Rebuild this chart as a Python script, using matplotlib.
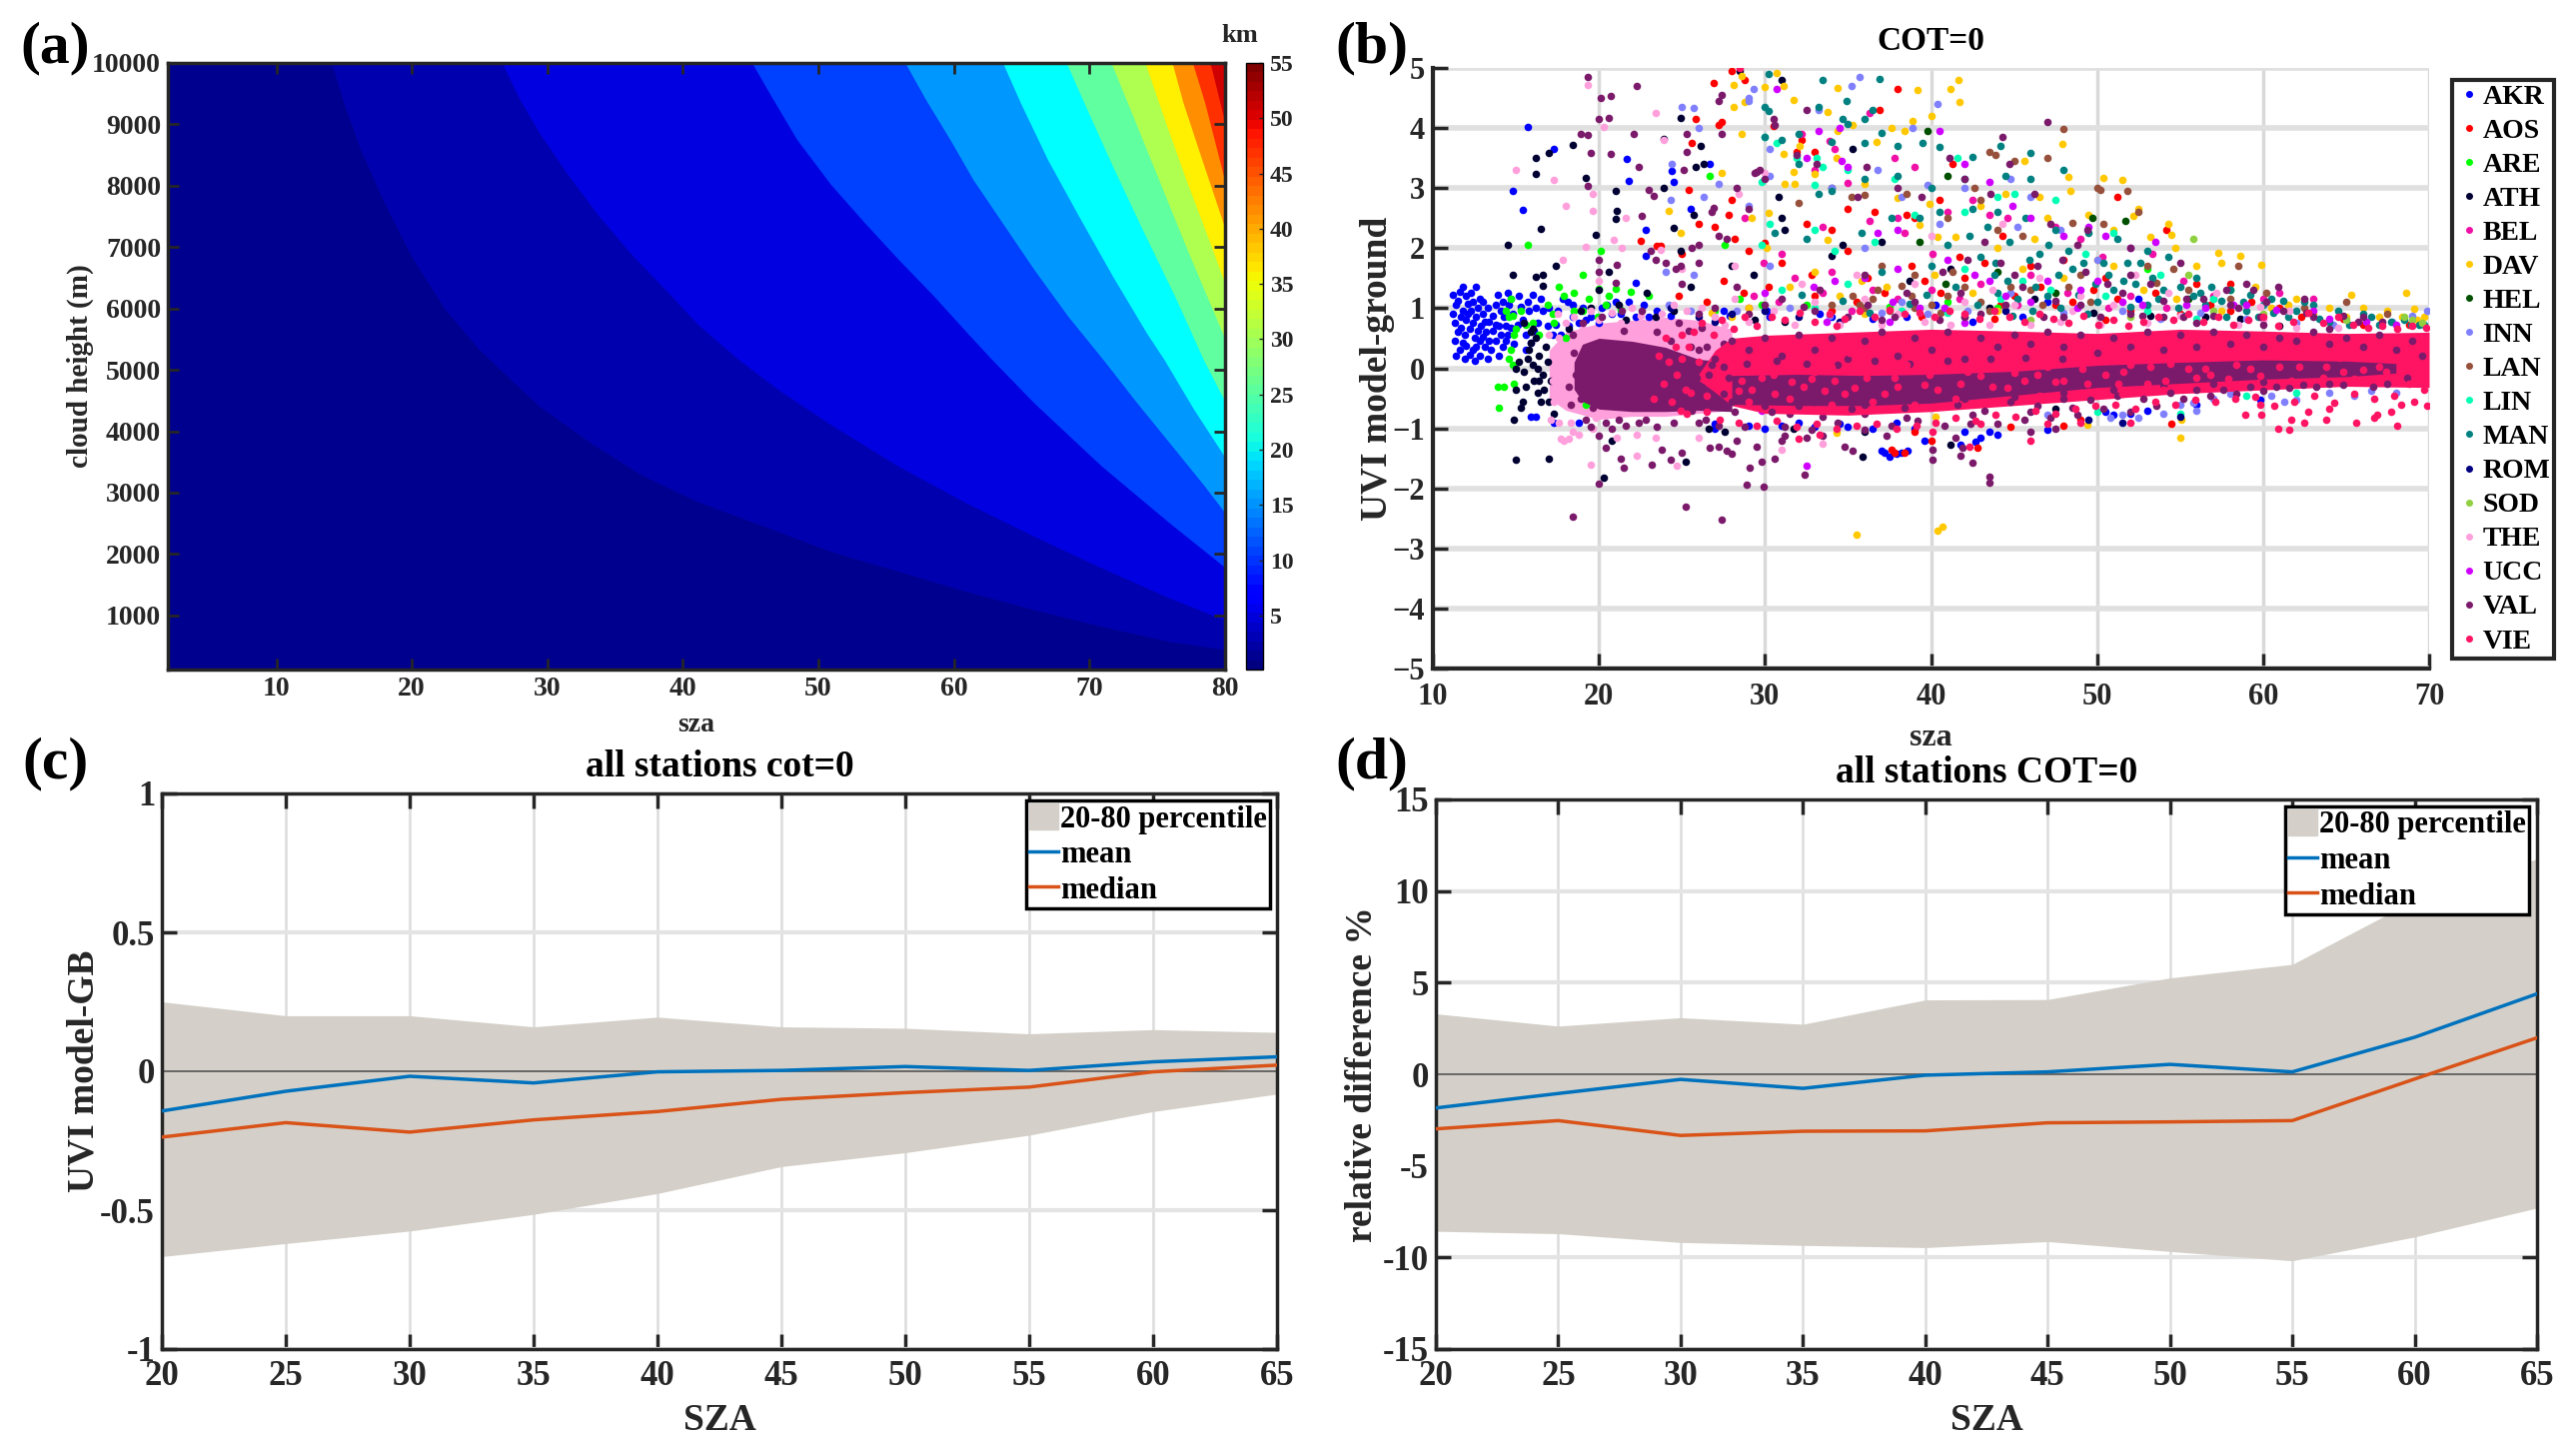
import numpy as np
import matplotlib
matplotlib.use('Agg')
import matplotlib.pyplot as plt
from matplotlib.cm import ScalarMappable
from matplotlib.colors import Normalize
from matplotlib.patches import Patch
from matplotlib.lines import Line2D

plt.rcParams['font.family'] = ['Liberation Serif', 'DejaVu Serif']
plt.rcParams['font.weight'] = 'bold'
plt.rcParams['axes.labelweight'] = 'bold'
plt.rcParams['axes.titleweight'] = 'bold'

FIG_W, FIG_H = 2578, 1454
DARK = '#262626'

# ---- panel (a): band edges, (sza, cloud height)
EDGE_1 = [(14.07, 10000), (14.97, 9353), (16.2, 8592), (17.96, 7723), (19.96, 6853), (22.46, 5984), (24.96, 5332), (27.3, 4842), (29.4, 4408), (33.2, 3810),
          (36.9, 3293), (41.0, 2860), (46, 2451), (50.9, 2043), (55.9, 1717), (60.9, 1391), (65.9, 1092), (70.9, 821), (75.9, 576), (80, 445)]
EDGE_2 = [(26.65, 10000), (27.95, 9408), (29.4, 8864), (31.4, 8212), (33.7, 7533), (36.2, 6880), (38.7, 6310), (41.05, 5750), (44.1, 5168), (47.2, 4652),
          (50.9, 4109), (55.9, 3429), (60.9, 2832), (65.9, 2288), (70.9, 1772), (75.9, 1283), (80, 920)]
EDGE_3 = [(45.1, 10000), (46.5, 9462), (48.4, 8755), (50.9, 8022), (53.4, 7397), (55.9, 6799), (58.4, 6228), (60.9, 5620), (62.7, 5190), (65.9, 4462),
          (70.9, 3429), (75.9, 2505), (80, 1780)]
EDGE_4 = [(56.4, 10000), (57.9, 9408), (59.7, 8755), (61.4, 8103), (63.4, 7451), (65.9, 6636), (68.4, 5875), (71, 5168), (73.4, 4489), (75.9, 3810),
          (78.4, 3130), (80, 2670)]
EDGE_5 = [(63.6, 10000), (64.9, 9353), (66.9, 8429), (69.2, 7505), (71.7, 6527), (74.2, 5603), (75.5, 5168), (77.7, 4353), (80, 3575)]
EDGE_6 = [(68.3, 10000), (69.7, 9299), (71.7, 8321), (73.9, 7288), (76.4, 6147), (78.4, 5168), (80, 4480)]
EDGE_7 = [(71.6, 10000), (73.2, 9136), (75.2, 8049), (77.2, 6962), (80, 5500)]
EDGE_8 = [(74.1, 10000), (75.7, 8973), (77.2, 8049), (78.7, 7179), (80, 6400)]
EDGE_9 = [(76.1, 10000), (76.9, 9353), (78.2, 8484), (80, 7300)]
EDGE_10 = [(77.6, 10000), (78.5, 9353), (80, 8060)]
EDGE_11 = [(78.9, 10000), (80, 9020)]
BAND_COLORS = ['#00008F', '#0000AF', '#0000E0', '#0040FF', '#0098FF', '#00FFFF', '#60FF9F', '#AFFF50', '#FFEF00', '#FF8F00', '#FF3000', '#CF0000']

# ---- panel (b): points, (sza, UVI difference)
AKR = [(11.2, 1.22), (11.4, 1.05), (11.6, 1.28), (11.8, 1.35), (12.0, 1.2), (12.3, 1.25), (12.6, 1.35), (12.8, 1.15), (13.0, 1.1),
       (11.2, 0.9), (11.3, 0.75), (11.5, 0.6), (11.3, 0.45), (11.6, 0.3), (11.4, 0.2), (11.9, 0.15), (12.2, 0.22), (12.5, 0.12),
       (11.8, 0.95), (12.0, 0.8), (12.3, 0.95), (12.6, 0.85), (12.9, 0.7), (11.9, 0.55), (12.2, 0.65), (12.5, 0.5), (12.8, 0.45),
       (12.0, 0.38), (12.4, 0.3), (12.8, 0.2), (13.1, 0.35), (13.3, 0.15), (13.2, 0.6), (13.4, 0.78), (13.6, 0.62), (13.8, 0.45),
       (13.5, 0.3), (14.0, 0.2), (14.2, 0.35), (14.0, 0.7), (14.3, 0.85), (14.2, 1.1), (14.5, 1.25), (13.9, 1.22), (14.6, 1.05),
       (14.8, 0.9), (14.5, 0.55), (14.9, 0.4), (15.2, 1.2), (15.4, 0.8), (15.6, 0.55), (15.1, 0.72), (15.8, 0.95), (16.0, 1.22),
       (16.3, 0.75), (16.5, 1.15), (16.9, 0.7), (17.2, 0.55), (17.5, 0.95), (17.8, 1.15), (18.1, 1.1), (18.4, 0.85), (18.2, 0.7),
       (19.0, 1.0), (19.5, 0.85), (20.0, 0.75), (20.5, 1.05), (21.0, 1.1), (21.3, 0.9), (21.8, 1.1), (22.2, 0.85), (22.7, 1.05),
       (14.8, 2.95), (15.4, 2.63), (15.7, 4.02), (17.3, 3.65), (21.65, 3.48), (21.8, 3.12), (22.2, 1.42), (24.4, 3.28), (24.5, 3.1),
       (26.7, 3.41), (25.5, 2.66), (22.8, 2.3), (22.8, 1.87), (15.9, -0.8), (16.2, -0.8), (17.3, -0.9), (18.8, -0.9), (37.2, -1.41),
       (37.5, -1.47), (37.9, -1.43), (38.6, -1.38), (37.0, -1.38), (38.2, -1.41), (39.6, -1.2), (27.0, -1.0), (29.0, -0.95), (30.0, -1.0),
       (31.0, -0.95), (33.0, -0.98), (35.0, -0.97), (36.5, -1.0), (39.0, -1.0), (42.0, -1.05), (43.0, -1.15), (44.0, -1.1), (47.0, -1.02),
       (41.8, -1.28), (42.7, -1.22), (43.5, -1.05), (51.0, -0.78), (52.0, -0.75), (53.0, -0.7), (56.0, -0.6), (59.8, -0.52), (50.5, -0.72),
       (11.5, 1.12), (11.7, 0.85), (11.7, 0.68), (11.8, 0.42), (12.1, 1.08), (12.1, 0.9), (12.4, 1.1), (12.4, 0.75), (12.7, 1.0), (12.7, 0.62),
       (12.6, 0.36), (13.0, 0.9), (13.0, 0.52), (13.1, 0.78), (13.3, 1.0), (13.4, 0.45), (13.6, 0.88), (13.8, 0.72), (13.8, 1.05), (14.1, 0.55),
       (14.1, 0.95), (14.4, 0.7), (14.4, 0.45), (14.7, 1.15), (14.7, 0.68), (15.3, 1.02), (15.7, 1.1), (15.6, 0.3), (15.9, 0.42), (16.2, 1.0),
       (16.6, 0.95), (16.1, 0.62), (17.0, 1.0), (17.4, 0.72), (17.7, 0.55), (18.4, 1.05), (18.8, 0.75), (19.2, 0.8), (20.2, 1.0), (20.8, 0.9),
       (23.0, 0.85), (23.5, 0.95), (24.3, 0.88), (27.5, 0.95), (27.9, 0.88), (30.1, 0.95), (30.3, 0.85), (33.3, 0.9), (34.0, 0.85), (36.5, 0.82),
       (38.5, 0.85), (40.3, 1.05), (47.0, 1.1), (52.5, 1.15), (45.5, 0.85), (42.5, 0.78), (27.0, -0.92), (32.0, -0.9), (34.5, -0.92), (37.9, -0.9)]
AOS = [(26.9, 4.75), (27.4, 4.1), (28.0, 4.95), (28.8, 4.8), (25.6, 3.75), (25.8, 4.15), (27.2, 4.05), (30.5, 4.04), (32.2, 3.8),
       (33.0, 3.6), (31.9, 3.6), (38.0, 4.65), (36.9, 4.3), (25.4, 2.97), (28.0, 2.8), (27.8, 2.55), (26.0, 2.4), (27.0, 2.35),
       (22.5, 2.12), (23.5, 2.03), (23.7, 2.03), (25.0, 1.9), (28.2, 2.15), (29.0, 1.95), (30.0, 2.08), (32.5, 2.4), (34.0, 2.3),
       (35.0, 2.65), (36.6, 2.6), (38.5, 2.55), (39.0, 2.5), (40.5, 2.8), (41.3, 3.4), (44.3, 2.2), (46.0, 1.7), (48.0, 1.8),
       (51.2, 2.85), (54.2, 2.3), (50.5, 1.5), (56.0, 1.4), (58.0, 1.4), (24.8, 1.2), (26.5, 1.1), (29.0, 1.0), (33.0, 1.2),
       (35.5, 1.1), (42.0, 1.5), (45.0, 1.2), (48.5, 1.1), (52.0, 0.95), (55.0, 0.9), (61.0, 1.0), (37.6, -1.35), (37.8, -1.4),
       (38.4, -1.4), (39.0, -1.05), (40.0, -1.2), (42.8, -1.32), (48.0, -0.95), (49.0, -0.85), (44.8, -0.98), (54.5, -0.93),
       (31.0, 1.75), (32.8, 1.55), (35.0, 1.95), (36.2, 1.5), (37.2, 1.25), (38.8, 1.7), (39.6, 1.45), (40.6, 1.25), (41.7, 1.85), (43.2, 1.75),
       (44.2, 1.05), (46.6, 1.35), (47.5, 1.05), (49.8, 1.3), (51.2, 1.15), (53.5, 1.25), (56.8, 1.05), (59.3, 1.1), (62.3, 0.85), (64.8, 0.82),
       (27.5, 1.45), (28.7, 1.25), (30.2, 1.35), (34.0, 0.95), (39.4, 0.85), (43.8, 0.82), (58.0, 0.95), (66.0, 0.72), (68.8, 0.72), (50.5, 0.8)]
ARE = [(14.7, 1.15), (14.8, 0.88), (15.0, 0.65), (14.6, 0.85), (14.9, 0.55), (14.6, 0.15), (14.8, 0.05), (14.9, -0.25), (14.3, -0.3), (13.9, -0.3),
       (14.0, -0.65), (15.7, 2.05), (17.6, 1.35), (17.9, 1.2), (18.5, 1.25), (19.0, 1.55), (20.0, 1.32), (21.0, 1.33), (21.9, 1.28), (23.0, 1.2),
       (20.1, 1.95), (26.7, 3.2), (27.6, 2.05), (19.0, 0.95), (19.9, 0.85), (20.4, 1.05), (16.0, 0.75), (16.4, 0.55), (17.2, 0.9), (18.0, 0.5),
       (19.2, -0.6), (28.5, 1.15), (44.0, 1.0), (53.0, 1.65), (58.0, 1.3), (14.4, 0.95), (14.7, 0.3), (15.3, 0.95), (15.6, 0.72), (16.9, 1.05),
       (17.3, 0.75), (18.5, 0.95), (19.4, 1.15), (20.6, 1.2), (21.3, 0.98), (27.0, 0.95), (29.8, 1.05), (32.5, 1.05), (37.5, 1.02), (41.0, 1.1)]
ATH = [(14.5, 2.05), (14.8, 1.55), (16.2, 1.52), (16.6, 1.55), (16.6, 1.38), (17.4, 1.7), (16.2, 3.23), (16.2, 3.5), (17.0, 3.58),
       (18.4, 3.72), (19.2, 3.17), (21.0, 2.95), (21.1, 2.62), (21.0, 2.48), (16.5, 2.32), (19.8, 2.22), (20.0, 1.3), (20.6, 1.6),
       (23.9, 3.0), (24.5, 2.33), (24.9, 1.95), (22.9, 1.25), (25.7, 2.55), (28.5, 4.95), (24.9, 4.16), (23.9, 3.82), (31.0, 4.8),
       (26.1, 3.7), (26.3, 3.4), (25.8, 3.35), (35.3, 3.65), (30.8, 2.85), (31.0, 2.5), (31.2, 2.3), (34.0, 3.0), (34.7, 2.05),
       (37.0, 2.1), (34.0, 1.88), (25.5, 1.35), (28.0, 1.7), (29.3, 1.55), (15.5, 0.75), (15.9, 0.6), (16.2, 0.5), (15.8, 0.3),
       (16.4, 0.2), (16.0, 0.05), (16.6, -0.1), (16.9, 0.1), (15.5, -0.05), (15.2, 0.1), (15.0, 0.0), (16.1, -0.2), (16.7, -0.35),
       (15.0, -0.35), (15.4, -0.55), (16.3, -0.4), (17.0, -0.55), (17.3, -0.75), (14.9, -0.85), (15.3, -0.65), (15.0, -1.53), (17.0, -1.5),
       (20.3, -1.82), (25.2, -1.55), (35.9, -1.48), (20.8, -1.2), (26.6, -1.0), (27.6, -1.05), (31.7, -1.0), (36.0, -1.05), (41.2, -1.27),
       (18.2, 0.65), (18.9, 0.95), (19.5, 1.0), (21.2, 1.05), (21.6, 0.8), (24.5, 0.95), (47.5, -0.68), (63.2, 0.4), (61.0, 0.7),
       (15.9, 0.42), (16.3, 0.0), (16.4, -0.2), (16.0, 0.65), (15.7, 0.15), (16.8, 0.35), (16.5, -0.55), (17.1, -0.2), (15.6, -0.3), (23.4, 0.85),
       (29.4, 0.8), (31.2, 0.78), (38.7, 1.45), (41.2, 1.65), (43.5, 1.0), (46.2, 1.15), (49.8, 0.92), (53.2, 0.88), (56.5, 0.85), (58.6, 0.82)]
BEL = [(32.2, 3.9), (33.9, 3.78), (35.0, 3.08), (33.0, 3.3), (36.3, 4.25), (34.2, 3.65), (37.8, 3.5), (39.0, 3.35), (38.0, 2.5),
       (31.8, 1.5), (33.5, 2.35), (36.3, 2.45), (38.4, 2.25), (40.1, 1.9), (42.5, 2.8), (41.0, 2.6), (43.5, 2.55), (44.6, 2.5),
       (47.5, 2.35), (49.0, 2.15), (53.3, 1.9), (50.3, 1.85), (46.0, 1.55), (52.0, 1.2), (55.2, 1.45), (57.0, 1.2), (60.0, 1.15),
       (61.0, 1.25), (63.0, 1.15), (28.8, 2.5), (29.9, 1.75), (31.0, 1.9), (34.0, 1.6), (36.5, 1.3), (40.0, 1.3), (43.0, 1.4),
       (29.3, 1.2), (30.8, 1.1), (33.5, 1.25), (35.2, 0.95), (38.0, 1.15), (41.7, 1.15), (45.2, 1.05), (48.2, 1.25), (50.7, 1.0), (54.2, 1.0)]
DAV = [(41.66, 4.8), (41.2, 4.65), (41.7, 4.43), (47.9, 3.73), (45.6, 3.46), (48.3, 3.18), (50.4, 3.17), (51.5, 3.13), (48.4, 2.95),
       (52.5, 2.65), (52.2, 2.54), (54.3, 2.4), (54.5, 2.22), (53.2, 2.19), (57.3, 1.92), (58.6, 1.88), (57.5, 1.75), (59.9, 1.72),
       (68.6, 1.26), (69.1, 0.99), (65.3, 1.22), (54.7, 2.0), (28.6, 4.87), (30.7, 4.92), (28.1, 4.71), (29.95, 4.68), (31.1, 4.7),
       (28.1, 4.35), (28.8, 4.43), (31.7, 4.46), (34.4, 4.67), (39.2, 4.63), (28.6, 3.9), (34.4, 3.95), (35.3, 4.05), (37.6, 4.0),
       (38.9, 4.12), (40.0, 4.2), (38.4, 3.95), (33.8, 4.27), (27.4, 3.26), (31.1, 3.57), (32.1, 3.71), (31.7, 3.27), (31.2, 3.07),
       (31.8, 3.07), (33.0, 3.23), (34.3, 3.5), (36.0, 3.07), (36.7, 3.77), (38.0, 2.84), (24.2, 2.62), (24.9, 2.26), (29.2, 2.51),
       (30.2, 2.59), (33.8, 2.13), (30.1, 2.01), (39.3, 2.38), (39.9, 2.73), (40.4, 2.19), (41.5, 2.19), (35.5, -2.77), (40.4, -2.7),
       (40.7, -2.63), (34.3, -1.08), (40.3, -0.8), (55.0, -1.15), (49.4, -0.94), (55.1, -0.86), (43.0, 2.7), (44.5, 2.9), (46.5, 2.85),
       (47.0, 2.5), (49.5, 2.55), (51.0, 2.3), (44.0, 2.0), (46.2, 2.15), (50.0, 1.8), (56.0, 1.7), (62.0, 1.15), (64.0, 1.0),
       (66.0, 1.0), (67.5, 0.95), (68.4, 0.85), (69.3, 0.8), (69.7, 0.85), (60.5, 1.0), (63.0, 0.9), (33.0, 1.6), (35.8, 1.45),
       (29.0, 1.0), (31.5, 1.35), (34.5, 1.2), (37.3, 1.35), (40.2, 1.55), (42.5, 1.25), (45.5, 1.65), (48.0, 1.5), (51.0, 1.7), (52.8, 1.3),
       (54.8, 1.15), (57.5, 0.95), (59.5, 1.35), (61.5, 1.05), (65.0, 0.85), (67.0, 0.85), (26.8, 0.92), (28.0, 0.85), (36.0, 0.9), (44.0, 0.95)]
HEL = [(39.8, 3.95), (41.0, 3.2), (39.3, 2.1), (49.7, 2.5), (51.7, 2.45), (44.0, 1.6), (40.9, 1.4), (47.5, 1.25), (55.5, 1.15)]
INN = [(29.3, 4.65), (29.0, 4.5), (29.0, 4.45), (25.0, 4.35), (25.7, 4.33), (26.0, 4.0), (30.3, 3.65), (33.2, 4.3), (35.7, 4.85), (35.2, 4.7),
       (40.4, 4.4), (38.9, 4.0), (24.4, 3.4), (24.3, 2.8), (26.3, 2.85), (27.2, 3.07), (29.0, 2.7), (30.3, 3.2), (34.0, 3.0), (36.8, 3.3),
       (38.2, 2.85), (39.8, 3.05), (42.0, 3.0), (44.8, 3.15), (46.0, 2.85), (50.0, 1.8), (45.2, 2.35), (47.8, 2.3), (40.5, 2.4), (36.0, 2.0),
       (24.0, 1.6), (25.7, 1.55), (30.3, 1.7), (69.9, 0.95), (55.0, -0.6), (56.0, -0.7), (54.0, -0.75), (50.8, -0.82), (51.5, -0.78), (52.5, -0.82),
       (62.0, -0.52), (64.0, -0.4), (66.5, -0.38), (68.0, -0.4), (60.5, -0.45), (58.0, -0.42), (57.0, -0.5), (65.5, -0.45), (61.3, -0.55), (47.0, -0.78),
       (24.2, 1.05), (25.5, 0.95), (28.3, 0.95), (31.5, 1.0), (33.9, 0.88), (37.0, 0.92), (38.2, 1.1), (39.8, 0.9), (42.2, 0.95), (44.8, 1.25),
       (48.0, 0.92), (51.5, 0.95), (53.8, 0.82), (56.2, 0.92), (59.0, 0.82), (62.0, 0.75), (64.2, 0.72), (67.8, 0.78), (69.0, 0.88), (55.8, -0.58)]
LAN = [(48.0, 3.98), (43.5, 3.6), (43.9, 3.55), (45.0, 3.45), (47.0, 3.5), (42.6, 3.0), (43.0, 2.8), (50.0, 3.0), (50.2, 2.97), (51.8, 2.95),
       (52.5, 2.6), (50.4, 2.4), (48.5, 2.42), (45.5, 2.2), (44.0, 2.3), (41.0, 2.5), (38.5, 2.9), (36.0, 2.88), (35.2, 2.85), (32.0, 2.75),
       (41.3, 1.6), (37.0, 1.7), (39.0, 1.55), (46.0, 1.3), (49.0, 1.55), (53.0, 1.7), (54.6, 1.65), (58.5, 1.7), (57.0, 1.15), (36.5, 1.15),
       (34.0, 1.05), (36.0, 1.0), (37.5, 0.95), (39.0, 1.0), (41.0, 1.2), (43.0, 1.1), (65.0, 1.1), (67.5, 0.9),
       (35.3, 1.2), (35.7, 1.05), (36.8, 1.3), (38.2, 1.38), (38.8, 1.2), (40.0, 1.05), (40.6, 0.92), (42.0, 1.35), (43.5, 0.95), (44.8, 1.35),
       (46.7, 1.05), (48.3, 1.35), (49.6, 1.1), (53.6, 1.42), (55.5, 1.3), (58.0, 1.15), (60.2, 1.25), (62.5, 1.0)]
LIN = [(30.0, 3.85), (30.7, 3.75), (33.1, 3.5), (33.5, 3.35), (29.8, 3.1), (31.9, 3.5), (33.0, 3.05), (35.0, 3.3), (37.8, 3.15), (39.0, 2.55),
       (41.6, 3.5), (42.0, 2.6), (44.0, 2.85), (45.0, 2.9), (47.5, 2.8), (51.0, 2.25), (30.3, 2.4), (33.0, 2.3), (36.6, 2.1), (34.2, 1.95),
       (29.8, 2.05), (49.3, 1.9), (53.8, 1.55), (42.0, 1.65), (45.5, 1.45), (57.0, 1.15), (55.0, -0.75), (50.0, -0.72), (59.0, -0.45), (62.0, -0.4),
       (31.0, 1.3), (33.0, 1.0), (35.0, 1.4), (38.2, 0.95), (41.0, 0.92), (44.2, 1.15), (47.2, 1.3), (50.5, 1.2), (53.0, 0.95), (56.0, 0.82)]
MAN = [(30.2, 4.9), (33.5, 4.8), (36.9, 4.82), (36.5, 4.3), (34.9, 4.45), (30.0, 4.35), (30.2, 4.28), (33.2, 4.35), (34.7, 4.15), (35.0, 4.07),
       (36.0, 4.15), (37.0, 3.92), (30.0, 3.85), (31.0, 3.8), (32.0, 3.9), (34.0, 3.77), (36.0, 3.75), (38.0, 3.7), (39.5, 3.75), (40.5, 3.68),
       (42.5, 3.52), (44.2, 3.7), (46.0, 3.58), (48.0, 3.3), (46.0, 3.15), (44.5, 3.2), (42.0, 3.15), (40.0, 3.0), (38.0, 3.2), (36.0, 3.15),
       (34.0, 2.95), (32.0, 3.4), (33.2, 2.9), (30.6, 2.25), (32.5, 2.15), (35.8, 2.25), (37.6, 2.5), (39.3, 2.5), (40.5, 2.6), (42.5, 2.65),
       (44.0, 2.6), (45.7, 2.5), (47.5, 2.3), (49.5, 2.25), (51.2, 2.15), (53.0, 1.95), (54.3, 1.85), (56.0, 1.5), (58.0, 1.3), (60.5, 1.15),
       (62.5, 1.1), (64.5, 0.95), (66.5, 0.85), (68.5, 0.8), (46.5, 1.9), (48.5, 1.65), (50.7, 1.55), (52.3, 1.4), (54.0, 1.3), (56.5, 1.05),
       (43.0, 1.85), (40.0, 1.7), (37.0, 1.6), (44.0, 1.25), (47.0, 1.2), (50.0, 1.1), (53.0, 1.05), (55.8, 1.2), (59.0, 0.95), (61.5, 0.85),
       (41.5, 1.35), (42.8, 1.05), (43.8, 1.55), (45.2, 1.15), (46.1, 0.95), (47.8, 1.0), (48.9, 1.22), (49.4, 0.9), (51.0, 1.3), (52.0, 1.02),
       (53.3, 1.5), (54.9, 1.0), (55.2, 0.88), (56.9, 1.35), (57.8, 0.85), (59.7, 0.85), (60.6, 0.92), (63.4, 0.82), (65.2, 0.72), (67.7, 0.78),
       (68.9, 0.72), (38.7, 1.08), (39.7, 1.22), (36.3, 0.92), (34.7, 1.12), (32.2, 1.22), (42.0, 0.85), (44.9, 0.88), (50.4, 1.75), (58.8, 1.1),
       (41.0, 2.05), (42.3, 2.2), (43.4, 2.35), (44.7, 2.1), (45.9, 1.8), (47.1, 2.05), (48.3, 1.95), (49.2, 1.75), (51.8, 1.75), (52.6, 1.75),
       (43.9, 1.75), (44.6, 1.45), (46.3, 1.35), (47.7, 1.55), (49.9, 1.4), (51.6, 1.45), (53.7, 1.15), (55.0, 1.35), (56.2, 1.25), (57.5, 1.12),
       (59.2, 1.22), (60.0, 1.05), (61.2, 1.12), (62.0, 0.95), (63.0, 1.05), (64.0, 0.78), (66.0, 0.9), (67.0, 0.72), (69.4, 0.72), (69.7, 0.72)]
ROM = [(24.3, 1.0), (26.0, 0.85), (28.0, 0.9), (30.0, 0.95), (32.0, 0.85), (34.5, 0.78), (27.0, 0.78), (44.5, 0.95), (49.5, -0.85), (51.5, -0.9), (55.0, -0.8)]
SOD = [(68.5, 0.85), (69.0, 0.8), (69.6, 0.75), (65.0, 0.8), (60.0, 0.9), (55.5, 1.55), (57.0, 0.95), (46.0, 0.8), (55.8, 2.15), (52.0, 0.85)]
THE = [(19.3, 4.72), (15.0, 3.3), (17.3, 3.13), (19.6, 2.9), (18.0, 2.7), (19.6, 2.62), (21.6, 2.5), (20.9, 2.13), (19.2, 2.02), (17.8, 1.8),
       (21.4, 2.0), (25.0, 1.65), (23.7, 1.97), (28.2, 1.7), (20.0, 1.45), (23.4, 4.25), (20.3, 4.02), (23.9, 3.8), (30.0, 3.25), (28.4, 2.9),
       (17.5, 0.9), (17.6, 0.5), (17.3, 0.2), (17.2, -0.2), (17.3, -0.55), (17.6, -0.9), (17.7, -1.18), (17.9, -1.2), (18.2, -1.18), (18.4, -1.05),
       (18.8, -1.1), (19.6, -1.0), (21.1, -1.15), (22.3, -1.1), (23.4, -1.15), (19.5, -1.6), (22.3, -1.45), (24.7, -1.63), (26.0, -1.15), (31.0, -1.35),
       (33.5, -1.25), (19.0, 0.65), (20.0, 0.8), (21.3, 0.75), (22.5, 0.88), (23.8, 0.9), (25.3, 0.95), (27.0, 0.85), (35.5, 1.55), (39.0, 1.4),
       (42.0, 1.1), (45.0, 1.05), (48.5, 0.95), (51.0, 1.05), (33.0, 1.1), (30.5, 0.95), (38.0, 0.9), (55.0, 0.88), (60.0, 0.8),
       (18.0, 0.75), (18.5, 0.85), (19.5, 0.95), (20.8, 0.92), (22.0, 1.0), (24.5, 1.05), (26.2, 1.0), (27.6, 0.72), (29.0, 0.78), (31.8, 0.72),
       (34.5, 0.72), (37.0, 0.72), (39.6, 0.78), (41.2, 0.72), (43.5, 0.72), (46.0, 0.72), (47.8, 0.78), (50.2, 0.72), (53.0, 0.75), (56.0, 0.75),
       (58.5, 0.72), (62.0, 0.68), (64.5, 0.68), (17.0, 0.55), (17.1, -0.85), (18.3, -0.9), (19.8, -0.82), (28.2, 1.15), (32.2, 1.4), (36.0, 1.15),
       (43.7, 1.3), (46.5, 1.5), (49.0, 1.2), (52.3, 1.55), (54.3, 1.25), (57.2, 1.25), (59.8, 1.02), (61.6, 0.95), (40.0, 2.2), (44.3, 2.4)]
UCC = [(30.7, 4.65), (33.2, 3.95), (34.5, 4.0), (35.0, 3.35), (34.6, 3.45), (32.5, 3.5), (36.8, 2.25), (38.0, 2.3), (40.5, 3.95), (42.0, 3.4),
       (43.5, 3.1), (44.9, 2.7), (46.0, 2.5), (48.0, 2.2), (49.5, 2.35), (50.5, 2.2), (52.0, 2.0), (53.5, 2.1), (32.5, -1.63), (29.8, -0.7),
       (36.0, 1.5), (38.0, 1.65), (41.0, 1.8), (43.5, 1.45), (44.5, 1.2), (47.0, 1.45), (49.0, 1.3), (51.5, 1.1), (56.5, 1.0), (59.0, 1.05), (63.0, 0.95),
       (30.0, 1.25), (32.9, 1.35), (34.2, 1.45), (37.7, 1.1), (39.3, 1.0), (40.8, 1.0), (42.6, 1.55), (46.0, 1.1), (48.8, 1.0), (50.0, 1.45),
       (52.7, 1.05), (55.4, 1.05), (58.2, 1.05), (60.8, 0.98), (64.0, 0.82), (66.2, 0.78), (68.0, 0.72), (33.7, 0.78), (37.5, 0.78), (42.0, 0.75)]
VAL = [(19.3, 4.85), (20.1, 4.5), (20.7, 4.53), (20.0, 4.15), (20.6, 4.17), (22.3, 4.7), (18.9, 3.9), (19.3, 3.88), (19.5, 3.58), (20.7, 3.57),
       (22.1, 3.9), (22.4, 3.35), (19.3, 3.03), (23.0, 2.97), (23.3, 2.87), (22.6, 2.53), (25.3, 3.9), (25.3, 3.6), (27.2, 4.45), (27.4, 4.55),
       (27.4, 3.9), (25.1, 3.3), (26.9, 2.67), (27.2, 2.2), (25.6, 2.0), (26.0, 2.05), (26.8, 2.6), (27.7, 2.15), (29.0, 2.65), (28.3, 3.0),
       (29.4, 3.25), (29.5, 3.27), (26.0, 1.75), (24.9, 1.7), (24.6, 1.65), (25.0, 1.4), (20.0, 1.8), (20.0, 1.6), (21.1, 1.73), (21.0, 1.42),
       (23.4, 1.8), (23.1, 1.95), (24.0, 1.75), (29.7, 3.3), (30.0, 3.15), (30.5, 4.15), (30.6, 4.05), (31.9, 3.55), (32.5, 4.3), (33.1, 3.4),
       (35.6, 2.85), (36.1, 3.35), (38.0, 3.0), (39.4, 2.85), (41.1, 3.5), (42.0, 3.15), (44.3, 3.85), (47.0, 4.1), (44.7, 3.4), (43.6, 2.9),
       (46.2, 2.9), (47.2, 2.4), (48.8, 2.05), (49.4, 2.3), (52.0, 2.0), (55.0, 1.75), (59.0, 1.4), (60.9, 1.35), (59.4, 1.3), (57.8, 1.3),
       (18.4, -2.47), (25.2, -2.3), (27.4, -2.52), (20.0, -1.92), (28.9, -1.94), (29.9, -1.97), (32.4, -1.77), (29.1, -1.65), (29.8, -1.56), (21.3, -1.5),
       (21.5, -1.65), (23.2, -1.6), (24.3, -1.52), (25.0, -1.4), (23.8, -1.35), (26.7, -1.33), (27.2, -1.3), (27.7, -1.38), (28.0, -1.42), (29.5, -1.3),
       (30.6, -1.5), (31.0, -1.2), (31.2, -1.12), (32.5, -1.15), (33.5, -1.12), (34.8, -1.3), (35.3, -1.38), (37.3, -1.12), (40.1, -1.35), (40.1, -1.52),
       (20.4, -1.32), (20.0, -1.12), (19.5, -0.98), (20.8, -1.0), (21.6, -0.95), (22.4, -0.9), (23.5, -0.98), (24.5, -0.9), (26.0, -0.9), (28.3, -1.2),
       (41.8, -1.45), (42.5, -1.58), (41.5, -1.15), (41.9, -1.32), (43.5, -1.8), (43.5, -1.9), (46.0, -1.05), (47.5, -1.0), (36.0, 1.55), (38.5, 1.25),
       (21.4, 0.95), (20.2, 0.85), (19.0, 0.75), (22.6, 0.95), (26.0, 0.9), (29.0, 0.9), (33.0, 0.95), (37.0, 0.8), (42.0, 0.85), (48.0, 0.85), (52.0, 0.9),
       (19.0, 0.1), (19.5, -0.3), (18.6, -0.1), (18.9, -0.5), (19.6, -0.65), (18.5, 0.25), (21.5, 0.62), (23.5, 0.6), (24.3, 0.45), (25.5, 0.35),
       (26.5, 0.35), (27.5, 0.4), (28.5, 0.2), (31.5, -0.75), (33.5, -0.8), (36.0, -0.75), (38.5, -0.82), (42.5, -0.78), (46.0, -0.72), (48.5, -0.65),
       (64.0, 0.65), (60.0, 0.72), (56.0, 0.75), (54.0, 0.85), (62.5, 1.15), (66.0, 0.85), (27.0, 1.0), (28.3, 1.35), (30.0, 1.05), (31.0, 1.15),
       (32.3, 1.02), (33.3, 1.3), (35.0, 0.85), (36.2, 1.05), (37.8, 0.85), (39.0, 1.1), (40.5, 0.8), (41.8, 1.25), (43.0, 0.9), (44.5, 1.05),
       (45.5, 1.35), (46.8, 0.85), (47.5, 1.12), (49.0, 1.05), (50.2, 0.85), (51.5, 1.25), (52.7, 0.88), (54.0, 1.12), (55.2, 0.85), (57.0, 0.88), (58.5, 1.0),
       (59.8, 0.85), (61.2, 0.95), (63.0, 0.85), (64.8, 0.88), (18.4, 0.55), (18.2, -0.3), (18.3, -0.6), (19.2, -0.85), (20.4, -0.9), (21.2, -0.85), (22.8, -0.85),
       (40.7, 1.6), (42.2, 1.8), (43.2, 2.1), (44.2, 1.75), (45.0, 1.55), (46.4, 1.7), (47.9, 1.8), (49.3, 1.6), (50.6, 1.4), (52.0, 1.55), (53.2, 1.4),
       (55.4, 1.15), (56.4, 1.15), (58.0, 1.05), (60.2, 1.1), (62.6, 0.92), (65.7, 0.78), (67.2, 0.78), (24.8, 0.75), (25.4, 0.62), (26.2, 0.68)]
VAL_MOTTLE = [(25.6, -0.7), (26.4, -0.85), (27.2, -0.95), (28.0, -0.55), (28.8, -0.98), (29.6, -0.4), (30.4, -0.72), (31.2, -0.98), (32.0, -0.62), (32.8, -1.02),
              (33.6, -0.42), (34.4, -0.9), (35.2, -0.68), (36.0, -1.02), (36.8, -0.38), (37.6, -0.95), (38.4, -0.65), (39.2, -0.88), (40.0, -0.42), (40.8, -0.95),
              (41.6, -0.6), (42.4, -0.92), (43.2, -0.7), (44.0, -0.92), (44.8, -0.55), (45.6, -0.85), (46.4, -0.62), (47.2, -0.82), (48.0, -0.5), (48.8, -0.78),
              (49.6, -0.52), (50.4, -0.68), (51.2, -0.45), (52.0, -0.72), (52.8, -0.5), (53.6, -0.62), (54.4, -0.4), (55.2, -0.5), (56.0, -0.35), (56.8, -0.45),
              (57.6, -0.35), (58.4, -0.42), (59.2, -0.3), (60.0, -0.38), (60.8, -0.3), (61.6, -0.32), (62.4, -0.28), (63.2, -0.3), (64.0, -0.25), (64.8, -0.28),
              (26.0, 0.3), (27.0, 0.15), (28.0, 0.45), (29.0, 0.3), (30.0, 0.5), (31.0, 0.2), (32.0, 0.55), (33.0, 0.3), (34.0, 0.5), (35.0, 0.15),
              (36.0, 0.45), (37.0, 0.6), (38.0, 0.2), (39.0, 0.5), (40.0, 0.3), (41.0, 0.6), (42.0, 0.15), (43.0, 0.5), (44.0, 0.35), (45.0, 0.55),
              (46.0, 0.4), (47.0, 0.6), (48.0, 0.35), (49.0, 0.55), (50.0, 0.25), (51.0, 0.5), (52.0, 0.35), (53.0, 0.6), (54.0, 0.3), (55.0, 0.55),
              (56.0, 0.35), (57.0, 0.6), (58.0, 0.4), (59.0, 0.55), (60.0, 0.35), (61.0, 0.5), (62.0, 0.45), (63.0, 0.6), (64.0, 0.4), (65.0, 0.5),
              (66.0, 0.35), (67.0, 0.55), (68.0, 0.3), (69.0, 0.45), (69.6, 0.2), (68.7, -0.15), (67.5, -0.25), (66.6, -0.3), (27.5, -0.42), (30.0, -0.62),
              (33.0, -0.55), (36.0, -0.6), (39.0, -0.48), (42.0, -0.5), (45.0, -0.48), (48.0, -0.4), (51.0, -0.35), (54.0, -0.28), (57.0, -0.25), (60.0, -0.22),
              (28.9, 0.08), (30.7, 0.12), (32.5, 0.08), (34.4, 0.05), (36.6, 0.12), (38.7, 0.08), (41.0, 0.12), (43.6, 0.15), (45.7, 0.18), (47.9, 0.15),
              (26.6, -0.1), (27.2, -0.6), (26.8, 0.05), (26.2, -0.3), (26.0, -0.55), (27.8, -0.15), (27.5, 0.02), (28.2, -0.72), (25.7, 0.05), (25.9, -0.15)]
VIE = [(28.5, 5.0), (34.3, 0.7), (25.0, 0.55), (25.4, 0.35), (25.7, 0.6), (26.2, 0.75), (26.9, 0.55), (27.4, 0.8), (28.1, 0.65), (28.8, 0.85),
       (29.5, 0.7), (30.4, 0.85), (31.2, 0.8), (32.1, 0.92), (33.0, 0.78), (33.9, 0.9), (34.8, 0.82), (35.7, 0.95), (36.6, 0.85), (37.5, 0.98),
       (38.4, 0.9), (39.3, 0.92), (40.2, 0.85), (41.1, 0.95), (42.0, 0.9), (42.9, 0.82), (43.8, 0.95), (44.7, 0.85), (45.6, 0.78), (46.5, 0.9),
       (47.4, 0.82), (48.3, 0.75), (49.2, 0.88), (50.1, 0.72), (51.0, 0.8), (51.9, 0.7), (52.8, 0.78), (53.7, 0.85), (54.6, 0.8), (55.5, 0.9),
       (56.4, 0.78), (57.3, 0.85), (58.2, 0.72), (59.1, 0.8), (60.0, 0.85), (60.9, 0.7), (61.8, 0.78), (62.7, 0.92), (63.6, 0.75), (64.5, 0.85),
       (65.4, 0.72), (66.3, 0.68), (67.2, 0.7), (68.1, 0.66), (69.0, 0.7), (69.8, 0.68), (26.5, -0.72), (27.3, -0.85), (28.4, -0.9), (29.5, -0.95),
       (30.7, -0.88), (31.9, -0.98), (33.1, -0.92), (34.3, -1.0), (35.5, -0.95), (36.7, -0.92), (37.9, -1.0), (39.1, -0.95), (40.3, -0.9), (41.5, -0.82),
       (42.7, -0.88), (43.9, -0.78), (45.1, -0.8), (46.3, -0.7), (47.5, -0.75), (48.7, -0.68), (49.9, -0.62), (51.1, -0.6), (52.3, -0.68), (53.5, -0.55),
       (54.7, -0.6), (55.9, -0.52), (57.1, -0.55), (58.3, -0.5), (59.5, -0.48), (60.7, -0.62), (61.9, -0.55), (63.1, -0.45), (64.3, -0.58), (65.5, -0.42),
       (66.7, -0.5), (67.9, -0.45), (69.1, -0.55), (69.9, -0.62), (69.7, -0.35), (68.3, -0.6), (66.9, -0.78), (64.0, -0.68), (62.5, -0.9), (61.7, -0.85),
       (61.6, -1.02), (58.9, -0.78), (59.9, -0.78), (59.8, -0.6), (60.9, -1.0), (65.6, -0.9), (66.7, -0.82), (68.1, -0.95), (67.7, -0.72), (62.7, -0.72),
       (63.8, -0.85), (42.3, -1.3), (43.0, -0.92), (40.1, -1.05), (33.3, -1.1), (32.0, -1.18), (46.0, -1.2), (47.0, -0.92), (49.0, -0.9), (52.0, -0.9),
       (25.5, -0.4), (26.0, 0.1), (27.0, -0.3), (27.8, 0.3), (28.6, -0.2), (29.5, 0.25), (30.5, -0.1), (31.3, 0.3), (32.3, -0.3), (33.2, 0.2),
       (34.2, -0.2), (35.1, 0.25), (36.1, -0.15), (37.0, 0.3), (38.0, -0.3), (38.9, 0.2), (39.9, -0.1), (40.8, 0.3), (41.8, -0.25), (42.7, 0.25),
       (43.7, -0.3), (44.6, 0.2), (45.6, -0.2), (46.5, 0.25), (47.5, -0.22), (48.4, 0.28), (49.4, -0.25), (50.3, 0.35), (51.3, -0.25), (52.2, 0.25),
       (53.2, 0.02), (54.1, -0.2), (55.1, 0.2), (56.0, -0.15), (57.0, 0.28), (57.9, -0.18), (58.9, 0.25), (59.8, -0.12), (60.8, 0.22), (61.7, -0.2),
       (62.7, 0.2), (63.6, -0.15), (64.6, 0.18), (65.5, -0.18), (66.5, 0.18), (67.4, -0.05), (68.4, 0.1), (69.3, -0.1), (26.5, -0.45), (29.0, -0.55),
       (31.5, -0.5), (34.0, -0.6), (36.5, -0.55), (39.0, -0.6), (41.5, -0.5), (44.0, -0.55), (46.5, -0.45), (49.0, -0.4), (51.5, -0.42), (54.0, -0.35),
       (28.0, 0.05), (33.0, -0.05), (37.5, -0.02), (42.5, 0.02), (47.0, 0.02), (52.0, 0.05), (56.5, 0.0), (28.4, -0.38), (30.6, -0.42), (33.6, -0.38),
       (35.4, -0.32), (37.2, -0.42), (40.4, -0.35), (43.0, -0.12), (45.0, -0.08), (48.0, -0.2), (50.5, -0.1), (53.0, -0.25), (55.5, 0.0), (58.4, 0.05),
       (61.0, 0.02), (63.8, 0.02), (66.0, -0.02), (68.8, -0.25), (29.8, -0.15), (32.8, -0.18), (35.8, 0.05), (38.5, 0.05), (41.2, 0.0), (44.3, 0.05),
       (23.6, 0.2), (23.9, -0.25), (24.2, 0.1), (24.4, -0.55), (24.6, 0.35), (24.7, -0.1), (24.9, -0.7), (25.0, 0.15), (25.2, -0.35), (25.3, -0.75),
       (24.0, 0.5), (23.3, -0.5), (29.2, -0.35), (31.6, -0.22), (34.8, -0.42), (37.8, -0.15), (39.6, -0.28), (42.2, -0.05), (44.6, -0.32), (46.4, -0.1),
       (49.1, 0.0), (51.6, -0.05), (54.4, 0.08), (56.8, -0.1), (59.2, 0.0), (62.2, 0.02), (64.8, -0.05), (67.0, 0.02), (30.9, 0.0), (34.0, 0.02)]
STATION_NAMES = ['AKR', 'AOS', 'ARE', 'ATH', 'BEL', 'DAV', 'HEL', 'INN', 'LAN', 'LIN', 'MAN', 'ROM', 'SOD', 'THE', 'UCC', 'VAL', 'VIE']
STATION_POINTS = [AKR, AOS, ARE, ATH, BEL, DAV, HEL, INN, LAN, LIN, MAN, ROM, SOD, THE, UCC, VAL, VIE]
STATION_COLORS = ['#0000FF', '#FF0000', '#00FF00', '#000033', '#F010A8', '#FFC800', '#005000', '#8080FF', '#96503C', '#00FFB4', '#008080', '#000080', '#90D040', '#FFA0DC', '#D000FF', '#7B1A6B', '#FF1464']

# solid mass of overlapping points, outline
THE_MASS_SZA = [17.0, 18, 20, 22, 24, 26, 28]
THE_MASS_TOP = [0.3, 0.6, 0.75, 0.8, 0.85, 0.8, 0.65]
THE_MASS_BOT = [-0.5, -0.7, -0.85, -0.8, -0.8, -0.75, -0.7]
VAL_LEFT_SZA = [18.5, 19, 20, 22, 24, 26, 28]
VAL_LEFT_TOP = [0.1, 0.4, 0.5, 0.45, 0.35, 0.15, 0.1]
VAL_LEFT_BOT = [-0.35, -0.55, -0.68, -0.72, -0.72, -0.7, -0.72]
VAL_CORE_SZA = [28, 32, 36, 40, 45, 50, 55, 60, 65, 68]
VAL_CORE_TOP = [-0.12, -0.1, -0.12, -0.1, -0.05, 0.05, 0.1, 0.14, 0.12, 0.08]
VAL_CORE_BOT = [-0.6, -0.62, -0.62, -0.58, -0.45, -0.32, -0.25, -0.18, -0.14, -0.08]
VIE_MASS_SZA = [26, 27, 28, 30, 35, 40, 45, 50, 55, 60, 65, 70]
VIE_MASS_TOP = [-0.1, 0.3, 0.5, 0.55, 0.6, 0.65, 0.62, 0.58, 0.65, 0.62, 0.58, 0.6]
VIE_MASS_BOT = [-0.2, -0.4, -0.62, -0.75, -0.78, -0.72, -0.62, -0.52, -0.42, -0.36, -0.3, -0.32]

# ---- panels (c) and (d)
SZA_BINS = [20, 25, 30, 35, 40, 45, 50, 55, 60, 65]
C_P80 = [0.25, 0.2, 0.2, 0.16, 0.195, 0.16, 0.155, 0.135, 0.15, 0.14]
C_P20 = [-0.667, -0.62, -0.575, -0.515, -0.44, -0.343, -0.293, -0.23, -0.145, -0.082]
C_MEAN = [-0.143, -0.072, -0.018, -0.042, -0.002, 0.003, 0.017, 0.003, 0.034, 0.052]
C_MEDIAN = [-0.237, -0.185, -0.219, -0.175, -0.145, -0.101, -0.077, -0.057, -0.002, 0.022]
D_P80 = [3.3, 2.63, 3.09, 2.73, 4.06, 4.08, 5.26, 6.0, 9.5, 11.76]
D_P20 = [-8.57, -8.7, -9.18, -9.34, -9.46, -9.13, -9.67, -10.18, -8.88, -7.3]
D_MEAN = [-1.84, -1.05, -0.28, -0.77, -0.05, 0.13, 0.54, 0.13, 2.02, 4.39]
D_MEDIAN = [-2.98, -2.53, -3.34, -3.11, -3.09, -2.65, -2.6, -2.53, -0.26, 1.99]


def px_axes(fig, left, top, right, bottom):
    """Оси по пиксельным координатам картинки."""
    return fig.add_axes([left / FIG_W, 1 - bottom / FIG_H, (right - left) / FIG_W, (bottom - top) / FIG_H])


def px_text(fig, x, y, s, size, **kw):
    fig.text(x / FIG_W, 1 - y / FIG_H, s, fontsize=size, fontweight='bold', **kw)


def plot_contour(fig):
    ax = px_axes(fig, 168, 63, 1226, 670)
    ax.set_facecolor(BAND_COLORS[0])
    edges = [EDGE_1, EDGE_2, EDGE_3, EDGE_4, EDGE_5, EDGE_6, EDGE_7, EDGE_8, EDGE_9, EDGE_10, EDGE_11]
    for edge, color in zip(edges, BAND_COLORS[1:]):
        sza, height = zip(*edge)
        ax.fill_between(sza, height, 10000, color=color, lw=0)
    ax.set_xlim(2, 80)
    ax.set_ylim(117, 10000)
    ax.set_xticks(range(10, 81, 10))
    ax.set_yticks(range(1000, 10001, 1000))
    ax.tick_params(direction='in', top=True, right=True, length=8, width=2, color=DARK, labelcolor=DARK, labelsize=20, pad=5)
    for s in ax.spines.values():
        s.set_linewidth(2.5)
        s.set_color(DARK)
    ax.set_xlabel('sza', fontsize=20, color=DARK, labelpad=8)
    ax.set_ylabel('cloud height (m)', fontsize=21, color=DARK, labelpad=-1)

    cax = px_axes(fig, 1247, 63, 1264, 670)
    sm = ScalarMappable(norm=Normalize(0.1, 55), cmap=plt.get_cmap('jet', 64))
    cb = fig.colorbar(sm, cax=cax)
    cb.set_ticks(range(5, 56, 5))
    cb.ax.tick_params(direction='in', length=3, width=1, color=DARK, labelcolor=DARK, labelsize=17, pad=5)
    cb.outline.set_linewidth(1)
    px_text(fig, 1222, 42, 'km', 19, color=DARK, va='baseline')


def plot_scatter(fig):
    ax = px_axes(fig, 1434, 68, 2431, 669)
    val_color = STATION_COLORS[15]
    ax.fill_between(THE_MASS_SZA, THE_MASS_BOT, THE_MASS_TOP, color=STATION_COLORS[13], lw=0, zorder=2)
    for name, points, color in zip(STATION_NAMES, STATION_POINTS, STATION_COLORS):
        sza, diff = np.array(points).T
        if name == 'VAL':
            ax.fill_between(VAL_LEFT_SZA, VAL_LEFT_BOT, VAL_LEFT_TOP, color=color, lw=0, zorder=3)
        if name == 'VIE':
            ax.fill_between(VIE_MASS_SZA, VIE_MASS_BOT, VIE_MASS_TOP, color=color, lw=0, zorder=3)
            ax.fill_between(VAL_CORE_SZA, VAL_CORE_BOT, VAL_CORE_TOP, color=val_color, lw=0, zorder=3)
            mottle_sza, mottle_diff = np.array(VAL_MOTTLE).T
            ax.scatter(mottle_sza, mottle_diff, s=30, color=val_color, lw=0, zorder=3)
        ax.scatter(sza, diff, s=30, color=color, lw=0, label=name, zorder=3)
    ax.set_xlim(10, 70)
    ax.set_ylim(-5, 5)
    ax.set_xticks(range(10, 71, 10))
    ax.set_yticks(range(-5, 6))
    ax.xaxis.grid(True, color='#d9d9d9', lw=2.5)
    ax.yaxis.grid(True, color='#e0e0e0', lw=4)
    ax.set_axisbelow(True)
    ax.tick_params(direction='in', length=11, width=2.5, color=DARK, labelcolor=DARK, labelsize=22, pad=6)
    ax.tick_params(axis='x', pad=10)
    ax.spines['top'].set_visible(False)
    ax.spines['right'].set_visible(False)
    ax.spines['left'].set_linewidth(3)
    ax.spines['bottom'].set_linewidth(3)
    ax.spines['left'].set_color(DARK)
    ax.spines['bottom'].set_color(DARK)
    ax.set_title('COT=0', fontsize=24, pad=13)
    ax.set_xlabel('sza', fontsize=23, color=DARK, labelpad=9)
    ax.set_ylabel('UVI model-ground', fontsize=27, color=DARK, labelpad=-2)
    handles = [Line2D([], [], ls='', marker='o', ms=4, color=c) for c in STATION_COLORS]
    leg = ax.legend(handles, STATION_NAMES, loc='upper left', bbox_to_anchor=(1.023, 0.98), borderaxespad=0,
                    fontsize=20, frameon=True, fancybox=False, edgecolor=DARK, framealpha=1, labelspacing=0.31,
                    handletextpad=0.0, handlelength=0.95, borderpad=0.15)
    leg.get_frame().set_linewidth(3)


def plot_band(fig, box, p20, p80, mean, median, ylim, yticks, yticklabels, title, ylabel, title_pad, ylabel_pad, leg_anchor):
    ax = px_axes(fig, *box)
    ax.fill_between(SZA_BINS, p20, p80, color='#D4D0C9', lw=0, zorder=2)
    ax.axhline(0, color='#555555', lw=1.2, zorder=2.5)
    ax.plot(SZA_BINS, mean, color='#0072BD', lw=2.5, zorder=3)
    ax.plot(SZA_BINS, median, color='#D95319', lw=2.5, zorder=3)
    ax.set_xlim(20, 65)
    ax.set_ylim(*ylim)
    ax.set_xticks(SZA_BINS)
    ax.set_yticks(yticks)
    ax.set_yticklabels(yticklabels)
    ax.xaxis.grid(True, color='#dcdcdc', lw=1.8)
    ax.yaxis.grid(True, color='#e4e4e4', lw=3)
    ax.set_axisbelow(True)
    ax.tick_params(direction='in', top=True, right=True, length=11, width=2.5, color=DARK, labelcolor=DARK, labelsize=25, pad=5)
    ax.tick_params(axis='x', pad=8)
    for s in ax.spines.values():
        s.set_linewidth(2.5)
        s.set_color(DARK)
    ax.set_title(title, fontsize=27, pad=title_pad)
    ax.set_xlabel('SZA', fontsize=27, color=DARK, labelpad=7)
    ax.set_ylabel(ylabel, fontsize=27, color=DARK, labelpad=ylabel_pad)
    handles = [Patch(color='#D4D0C9'), Line2D([], [], color='#0072BD', lw=2.5), Line2D([], [], color='#D95319', lw=2.5)]
    leg = ax.legend(handles, ['20-80 percentile', 'mean', 'median'], loc='upper right', bbox_to_anchor=leg_anchor, borderaxespad=0,
                    fontsize=22, frameon=True, fancybox=False, edgecolor='black', framealpha=1, labelspacing=0.18,
                    handletextpad=0.06, handlelength=0.95, handleheight=0.9, borderpad=0.1)
    leg.get_frame().set_linewidth(2.5)
    leg.set_zorder(5)


if __name__ == "__main__":
    fig = plt.figure(figsize=(FIG_W / 100, FIG_H / 100), dpi=100)
    plot_contour(fig)
    plot_scatter(fig)
    plot_band(fig, (162, 794, 1278, 1350), C_P20, C_P80, C_MEAN, C_MEDIAN, (-1, 1), [-1, -0.5, 0, 0.5, 1],
              ['-1', '-0.5', '0', '0.5', '1'], 'all stations cot=0', 'UVI model-GB', 12, -1, (0.9935, 0.987))
    plot_band(fig, (1437, 800, 2539, 1350), D_P20, D_P80, D_MEAN, D_MEDIAN, (-15, 15), list(range(-15, 16, 5)),
              [str(v) for v in range(-15, 16, 5)], 'all stations COT=0', 'relative difference %', 12, 2, (0.9927, 0.987))
    for x, y, letter in [(20, 62, '(a)'), (1336, 62, '(b)'), (22, 778, '(c)'), (1336, 778, '(d)')]:
        px_text(fig, x, y, letter, 43, color='black', va='baseline')
    fig.savefig('out.png', dpi=100)
